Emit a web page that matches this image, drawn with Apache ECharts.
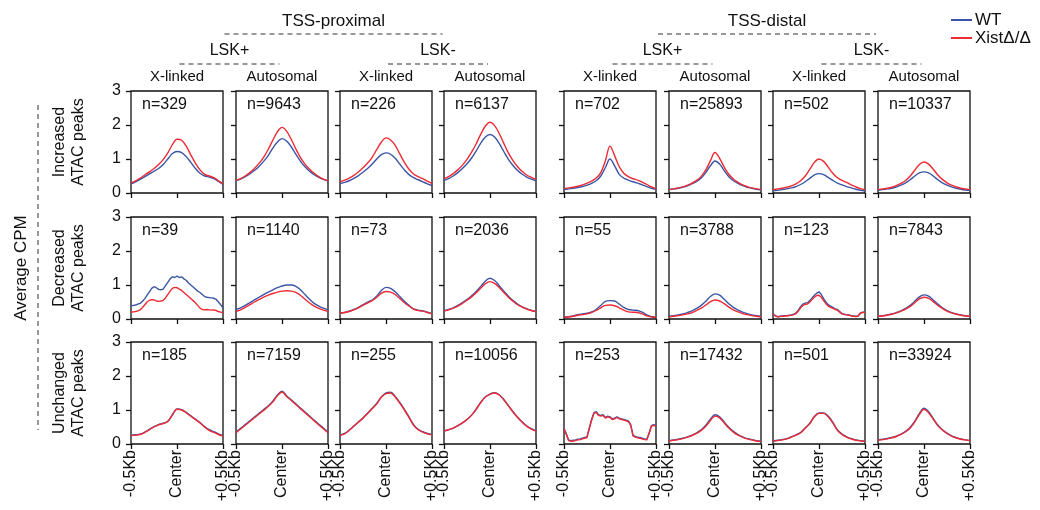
<!DOCTYPE html>
<html>
<head>
<meta charset="utf-8">
<script src="https://cdn.jsdelivr.net/npm/echarts@6/dist/echarts.min.js"></script>
<style>
  html, body { margin: 0; padding: 0; background: #fff; }
  #main { width: 1040px; height: 510px; }
</style>
</head>
<body>
<div id="main"></div>
<script>
// columns: TSS-proximal LSK+ X / Auto, LSK- X / Auto, TSS-distal LSK+ X / Auto, LSK- X / Auto
const colLabels = ['X-linked', 'Autosomal', 'X-linked', 'Autosomal', 'X-linked', 'Autosomal', 'X-linked', 'Autosomal']
const rowLabels = ['Increased\nATAC peaks', 'Decreased\nATAC peaks', 'Unchanged\nATAC peaks']
const xTickLabels = {0: '-0.5Kb', 10: 'Center', 20: '+0.5Kb'}

const incN = [329, 9643, 226, 6137, 702, 25893, 502, 10337]
const decN = [39, 1140, 73, 2036, 55, 3788, 123, 7843]
const uncN = [185, 7159, 255, 10056, 253, 17432, 501, 33924]

// Increased peaks, WT (blue) and XistΔ/Δ (red)
const incWT = [
  [0.27,0.33,0.40,0.48,0.56,0.64,0.72,0.84,1.00,1.16,1.22,1.19,1.07,0.90,0.72,0.58,0.50,0.47,0.42,0.34,0.25],
  [0.37,0.41,0.48,0.56,0.66,0.78,0.93,1.10,1.32,1.50,1.60,1.53,1.36,1.14,0.94,0.77,0.64,0.54,0.46,0.40,0.35],
  [0.27,0.31,0.36,0.43,0.51,0.61,0.72,0.85,1.00,1.13,1.18,1.14,1.02,0.85,0.68,0.54,0.45,0.39,0.33,0.27,0.22],
  [0.37,0.42,0.50,0.60,0.72,0.86,1.03,1.24,1.47,1.65,1.72,1.65,1.46,1.22,0.99,0.81,0.66,0.55,0.47,0.41,0.36],
  [0.10,0.12,0.14,0.16,0.19,0.23,0.28,0.36,0.50,0.75,1.00,0.80,0.55,0.44,0.38,0.33,0.29,0.24,0.19,0.14,0.11],
  [0.10,0.12,0.14,0.17,0.21,0.27,0.34,0.44,0.60,0.80,0.94,0.85,0.66,0.48,0.36,0.28,0.22,0.17,0.14,0.11,0.09],
  [0.07,0.08,0.10,0.12,0.15,0.19,0.25,0.33,0.43,0.53,0.57,0.54,0.46,0.37,0.29,0.24,0.19,0.15,0.11,0.08,0.06],
  [0.08,0.10,0.12,0.14,0.18,0.23,0.30,0.39,0.50,0.59,0.62,0.59,0.50,0.39,0.30,0.23,0.18,0.14,0.11,0.09,0.08]
]
const incKO = [
  [0.30,0.36,0.44,0.53,0.62,0.72,0.84,0.98,1.18,1.42,1.58,1.55,1.38,1.12,0.88,0.68,0.55,0.50,0.45,0.36,0.27],
  [0.37,0.42,0.50,0.60,0.72,0.87,1.05,1.28,1.55,1.80,1.93,1.82,1.58,1.30,1.05,0.85,0.70,0.58,0.48,0.41,0.36],
  [0.33,0.38,0.44,0.52,0.62,0.74,0.88,1.05,1.28,1.50,1.62,1.56,1.40,1.15,0.90,0.70,0.56,0.48,0.42,0.35,0.28],
  [0.42,0.48,0.57,0.68,0.82,0.99,1.20,1.45,1.73,1.97,2.08,1.98,1.75,1.46,1.18,0.95,0.77,0.63,0.53,0.46,0.40],
  [0.13,0.15,0.17,0.20,0.24,0.29,0.35,0.44,0.60,0.95,1.38,1.10,0.78,0.58,0.48,0.42,0.38,0.32,0.25,0.18,0.13],
  [0.10,0.12,0.15,0.18,0.23,0.29,0.37,0.49,0.68,0.95,1.19,1.02,0.76,0.55,0.41,0.31,0.24,0.19,0.15,0.12,0.10],
  [0.10,0.12,0.14,0.17,0.21,0.27,0.36,0.50,0.70,0.90,1.00,0.93,0.76,0.58,0.45,0.37,0.31,0.24,0.18,0.13,0.10],
  [0.10,0.12,0.14,0.17,0.22,0.28,0.37,0.50,0.67,0.84,0.91,0.85,0.70,0.53,0.40,0.30,0.23,0.18,0.14,0.12,0.10]
]

// Decreased peaks
const decWT = [
  [0.38,0.40,0.41,0.44,0.46,0.52,0.60,0.70,0.80,0.90,0.95,0.92,0.87,0.86,0.88,0.98,1.08,1.18,1.24,1.22,1.26,1.22,1.24,1.18,1.14,1.06,1.00,0.94,0.88,0.82,0.78,0.72,0.66,0.64,0.63,0.62,0.61,0.58,0.50,0.42,0.32],
  [0.28,0.33,0.40,0.48,0.56,0.64,0.72,0.79,0.86,0.92,0.97,1.00,1.00,0.96,0.86,0.72,0.58,0.46,0.38,0.32,0.27],
  [0.17,0.19,0.23,0.28,0.34,0.42,0.50,0.56,0.68,0.84,0.93,0.90,0.80,0.66,0.52,0.40,0.30,0.26,0.24,0.20,0.16],
  [0.24,0.28,0.33,0.40,0.48,0.57,0.68,0.81,0.96,1.12,1.20,1.13,0.98,0.82,0.67,0.54,0.44,0.36,0.30,0.25,0.22],
  [0.06,0.07,0.09,0.13,0.15,0.17,0.21,0.28,0.40,0.52,0.54,0.53,0.44,0.34,0.28,0.26,0.25,0.20,0.12,0.07,0.06],
  [0.08,0.10,0.12,0.15,0.19,0.24,0.31,0.40,0.52,0.66,0.74,0.70,0.58,0.45,0.34,0.26,0.20,0.16,0.12,0.10,0.08],
  [0.15,0.10,0.07,0.08,0.09,0.10,0.10,0.11,0.12,0.14,0.18,0.26,0.36,0.44,0.47,0.48,0.54,0.62,0.70,0.76,0.80,0.72,0.60,0.50,0.42,0.38,0.34,0.30,0.28,0.22,0.16,0.14,0.13,0.12,0.10,0.09,0.08,0.09,0.18,0.20,0.20],
  [0.08,0.10,0.12,0.15,0.19,0.24,0.31,0.40,0.52,0.65,0.71,0.67,0.56,0.44,0.33,0.25,0.19,0.15,0.12,0.10,0.08]
]
const decKO = [
  [0.20,0.21,0.22,0.24,0.27,0.34,0.42,0.50,0.55,0.57,0.56,0.53,0.52,0.53,0.55,0.62,0.72,0.82,0.90,0.93,0.92,0.88,0.84,0.78,0.72,0.66,0.60,0.54,0.48,0.40,0.32,0.28,0.27,0.28,0.27,0.26,0.27,0.25,0.22,0.20,0.18],
  [0.22,0.27,0.34,0.42,0.50,0.57,0.64,0.70,0.75,0.79,0.82,0.83,0.82,0.78,0.70,0.58,0.47,0.38,0.31,0.26,0.22],
  [0.17,0.19,0.22,0.27,0.33,0.40,0.47,0.54,0.64,0.76,0.81,0.79,0.72,0.60,0.48,0.38,0.29,0.25,0.23,0.19,0.15],
  [0.23,0.27,0.32,0.38,0.46,0.55,0.65,0.77,0.91,1.04,1.10,1.05,0.93,0.78,0.64,0.52,0.42,0.35,0.29,0.25,0.22],
  [0.05,0.06,0.08,0.11,0.13,0.15,0.19,0.25,0.33,0.40,0.41,0.39,0.33,0.26,0.21,0.20,0.19,0.15,0.09,0.06,0.05],
  [0.06,0.08,0.10,0.12,0.15,0.19,0.25,0.32,0.41,0.51,0.56,0.53,0.45,0.35,0.27,0.21,0.16,0.13,0.10,0.08,0.06],
  [0.14,0.09,0.06,0.07,0.08,0.09,0.09,0.10,0.11,0.13,0.16,0.23,0.33,0.40,0.43,0.44,0.50,0.57,0.64,0.69,0.70,0.64,0.54,0.45,0.38,0.34,0.31,0.28,0.26,0.20,0.15,0.13,0.12,0.11,0.09,0.08,0.07,0.08,0.17,0.19,0.19],
  [0.08,0.09,0.11,0.14,0.18,0.23,0.29,0.37,0.48,0.59,0.64,0.61,0.51,0.40,0.31,0.23,0.18,0.14,0.11,0.09,0.08]
]

// Unchanged peaks
const uncWT = [
  [0.26,0.27,0.29,0.35,0.43,0.51,0.57,0.61,0.67,0.86,1.03,1.01,0.93,0.83,0.73,0.63,0.51,0.42,0.36,0.30,0.25],
  [0.35,0.46,0.57,0.68,0.79,0.90,1.01,1.12,1.26,1.44,1.55,1.42,1.30,1.18,1.06,0.94,0.82,0.70,0.58,0.47,0.35],
  [0.26,0.31,0.41,0.53,0.65,0.77,0.91,1.05,1.20,1.38,1.50,1.52,1.40,1.22,1.02,0.80,0.57,0.43,0.36,0.31,0.28],
  [0.38,0.42,0.47,0.54,0.62,0.72,0.85,1.03,1.23,1.39,1.47,1.51,1.45,1.31,1.13,0.95,0.79,0.65,0.53,0.45,0.39],
  [0.46,0.30,0.12,0.10,0.11,0.12,0.14,0.15,0.17,0.19,0.21,0.47,0.72,0.92,0.95,0.86,0.84,0.86,0.78,0.82,0.80,0.74,0.76,0.80,0.76,0.74,0.72,0.70,0.68,0.57,0.26,0.22,0.20,0.19,0.17,0.15,0.14,0.32,0.54,0.57,0.54],
  [0.10,0.12,0.14,0.17,0.21,0.26,0.33,0.42,0.55,0.73,0.86,0.80,0.65,0.49,0.37,0.28,0.21,0.16,0.13,0.10,0.08],
  [0.09,0.11,0.13,0.16,0.21,0.27,0.34,0.47,0.61,0.81,0.91,0.91,0.82,0.64,0.42,0.29,0.21,0.16,0.12,0.10,0.08],
  [0.12,0.14,0.16,0.19,0.23,0.29,0.37,0.49,0.67,0.90,1.05,0.95,0.75,0.56,0.42,0.32,0.24,0.19,0.15,0.12,0.10]
]
const uncKO = [
  [0.25,0.26,0.28,0.34,0.42,0.50,0.56,0.60,0.66,0.85,1.02,1.00,0.92,0.82,0.72,0.62,0.50,0.40,0.34,0.28,0.23],
  [0.33,0.44,0.55,0.66,0.77,0.88,0.99,1.10,1.24,1.42,1.53,1.40,1.28,1.16,1.04,0.92,0.80,0.68,0.56,0.45,0.33],
  [0.25,0.30,0.40,0.52,0.64,0.76,0.90,1.04,1.18,1.38,1.48,1.50,1.38,1.20,1.00,0.78,0.55,0.42,0.35,0.30,0.27],
  [0.38,0.42,0.47,0.54,0.62,0.72,0.85,1.02,1.22,1.38,1.46,1.50,1.44,1.30,1.12,0.94,0.78,0.64,0.52,0.44,0.38],
  [0.44,0.28,0.10,0.08,0.09,0.10,0.12,0.13,0.15,0.17,0.19,0.45,0.70,0.90,0.93,0.84,0.82,0.84,0.76,0.80,0.78,0.72,0.74,0.78,0.74,0.72,0.70,0.68,0.66,0.55,0.24,0.20,0.18,0.17,0.15,0.13,0.12,0.30,0.52,0.55,0.52],
  [0.09,0.11,0.13,0.16,0.20,0.25,0.31,0.40,0.52,0.69,0.82,0.77,0.62,0.47,0.35,0.26,0.20,0.15,0.12,0.09,0.07],
  [0.08,0.10,0.12,0.15,0.20,0.26,0.33,0.46,0.60,0.80,0.90,0.90,0.80,0.62,0.40,0.28,0.20,0.15,0.11,0.09,0.08],
  [0.11,0.13,0.15,0.18,0.22,0.28,0.36,0.47,0.65,0.87,1.02,0.92,0.73,0.54,0.41,0.31,0.23,0.18,0.14,0.12,0.10]
]

const rowsWT = [incWT, decWT, uncWT]
const rowsKO = [incKO, decKO, uncKO]
const rowsN = [incN, decN, uncN]

const BLUE = '#3a55a6'
const RED = '#ee2a33'
const FONT = 'Liberation Sans, Arial, sans-serif'

// panel geometry
const lefts = [131, 236, 340, 444, 564, 669, 773, 878]
const tops = [91, 217, 342]
const W = 92, H = 102

const grids = [], xAxes = [], yAxes = [], series = [], graphics = []

const toPoints = arr => arr.map((v, i) => [i * 20 / (arr.length - 1), v])

tops.forEach((top, r) => {
  lefts.forEach((left, c) => {
    const idx = grids.length
    grids.push({
      left: left, top: top, width: W, height: H,
      show: true, borderColor: '#111', borderWidth: 1.3, backgroundColor: 'transparent'
    })
    xAxes.push({
      gridIndex: idx, type: 'value', min: 0, max: 20, interval: 10,
      axisLine: {show: false},
      splitLine: {show: false},
      axisTick: {show: true, length: 5, inside: false, lineStyle: {color: '#111', width: 1.3}},
      axisLabel: {
        show: r === 2, rotate: 90, margin: 6, color: '#111', fontSize: 16, fontFamily: FONT,
        formatter: v => xTickLabels[v] || ''
      }
    })
    yAxes.push({
      gridIndex: idx, type: 'value', min: 0, max: 3, interval: 1,
      axisLine: {show: false},
      splitLine: {show: false},
      axisTick: {show: true, length: 5, lineStyle: {color: '#111', width: 1.3}},
      axisLabel: {show: c === 0, margin: 10, color: '#111', fontSize: 16, fontFamily: FONT}
    })
    const wt = rowsWT[r][c], ko = rowsKO[r][c]
    series.push({
      name: 'WT', type: 'line', xAxisIndex: idx, yAxisIndex: idx,
      data: toPoints(wt), showSymbol: false, smooth: wt.length > 21 ? false : 0.35,
      lineStyle: {color: BLUE, width: 1.4}, itemStyle: {color: BLUE}
    })
    series.push({
      name: 'XistΔ/Δ', type: 'line', xAxisIndex: idx, yAxisIndex: idx,
      data: toPoints(ko), showSymbol: false, smooth: ko.length > 21 ? false : 0.35,
      lineStyle: {color: RED, width: 1.4}, itemStyle: {color: RED}
    })
    graphics.push({
      type: 'text', x: left + 11, y: top + 14,
      style: {text: 'n=' + rowsN[r][c], fontSize: 16, fontFamily: FONT, fill: '#111', textVerticalAlign: 'middle'}
    })
  })
})

const centers = lefts.map(l => l + W / 2)
const txt = (x, y, text, size, rot) => ({
  type: 'text', x: x, y: y, rotation: rot || 0,
  style: {text: text, fontSize: size, fontFamily: FONT, fill: '#111', textAlign: 'center', textVerticalAlign: 'middle', lineHeight: size + 3}
})
const dash = (x1, y1, x2, y2) => ({
  type: 'line', shape: {x1: x1, y1: y1, x2: x2, y2: y2},
  style: {stroke: '#333', lineWidth: 1, lineDash: [5, 4]}
})

// column headers
colLabels.forEach((t, c) => graphics.push(txt(centers[c], 77, t, 15)))
// LSK+/LSK- headers
;[[0, 'LSK+'], [2, 'LSK-'], [4, 'LSK+'], [6, 'LSK-']].forEach(([c, t]) => {
  const m = (centers[c] + centers[c + 1]) / 2
  graphics.push(txt(m, 51, t, 16))
  graphics.push(dash(m - 50, 64, m + 50, 64))
})
// TSS headers
;[[0, 'TSS-proximal'], [4, 'TSS-distal']].forEach(([c, t]) => {
  const m = (centers[c] + centers[c + 3]) / 2
  graphics.push(txt(m, 21, t, 17))
  graphics.push(dash(m - 109, 34, m + 109, 34))
})
// row labels
rowLabels.forEach((t, r) => graphics.push(txt(69, tops[r] + H / 2, t, 16, Math.PI / 2)))
graphics.push(txt(21, 268, 'Average CPM', 17, Math.PI / 2))
graphics.push(dash(38, 105, 38, 430))

const chart = echarts.init(document.getElementById('main'))
chart.setOption({
  animation: false,
  backgroundColor: '#fff',
  legend: {
    data: ['WT', 'XistΔ/Δ'],
    orient: 'vertical', left: 946, top: 6,
    icon: 'rect', itemWidth: 21, itemHeight: 2, itemGap: 0,
    textStyle: {fontSize: 17, fontFamily: FONT, color: '#111', lineHeight: 18, padding: [0, 0, 0, -2]}
  },
  grid: grids,
  xAxis: xAxes,
  yAxis: yAxes,
  series: series,
  graphic: graphics
})
</script>
</body>
</html>
